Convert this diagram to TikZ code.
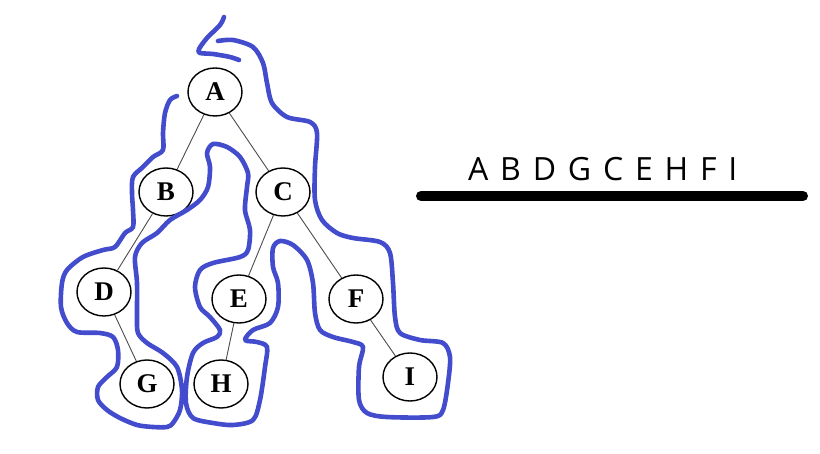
\documentclass[tikz,border=0pt]{standalone}
\usepackage{fontspec}
\setmainfont{Liberation Serif}
\newfontfamily\travfont[WordSpace=1.42]{Open Sans}
\usetikzlibrary{shapes.geometric}
\definecolor{penblue}{RGB}{66,76,204}
\begin{document}
\begin{tikzpicture}[x=1pt,y=-1pt,
	vert/.style={draw,ellipse,line width=1.4pt,minimum width=54pt,minimum height=48pt,inner sep=0pt,font=\fontsize{27}{27}\selectfont\bfseries},
	branch/.style={draw=black!70,line width=0.9pt},
	pen/.style={penblue,line width=4.6pt,line cap=round,line join=round}]
	\useasboundingbox (0,0) rectangle (820,454);

	\node[vert] (A) at (215,92) {A};
	\node[vert] (B) at (166,192) {B};
	\node[vert] (C) at (283,192) {C};
	\node[vert] (D) at (104,292) {D};
	\node[vert] (E) at (239,299) {E};
	\node[vert] (F) at (356,299) {F};
	\node[vert] (G) at (147,384) {G};
	\node[vert] (H) at (221,384) {H};
	\node[vert] (I) at (410,377) {I};

	\draw[branch] (A) -- (B);
	\draw[branch] (A) -- (C);
	\draw[branch] (B) -- (D);
	\draw[branch] (D) -- (G);
	\draw[branch] (C) -- (E);
	\draw[branch] (C) -- (F);
	\draw[branch] (E) -- (H);
	\draw[branch] (F) -- (I);

	% traversal pen stroke
	\draw[pen] plot[smooth,tension=0.5] coordinates {(224,17) (220,25) (207,38) (199,49) (200,53) (213,54) (230,57) (239,60)};
	\draw[pen] plot[smooth,tension=0.5] coordinates {(218,41) (233,40) (253,47) (263,63) (267,83) (272,103) (287,117) (310,122) (317,133) (315,167) (315,200) (322,220) (337,233) (353,238) (380,242) (390,253) (393,283) (395,317) (400,333) (420,340) (443,343) (450,357) (448,383) (443,410) (433,417) (387,417) (367,413) (359,400) (359,367) (363,347) (353,342) (333,337) (320,330) (315,313) (313,283) (307,260) (293,245) (280,241) (273,248) (273,267) (278,283) (278,307) (270,323) (253,330) (245,340) (257,342) (267,347) (265,367) (260,400) (253,420) (233,425) (213,423) (193,418) (186,403) (187,377) (193,353) (203,343) (217,337) (220,330) (210,317) (200,307) (195,287) (200,270) (213,263) (240,257) (248,250) (250,230) (245,210) (247,187) (248,173) (240,157) (227,147) (213,144) (207,153) (210,167) (208,187) (200,200) (187,210) (170,220) (157,233) (142,243) (135,257) (137,283) (137,317) (138,333) (147,343) (163,353) (177,367) (182,390) (180,410) (173,423) (167,427) (153,427) (137,425) (120,418) (107,410) (98,400) (98,387) (107,377) (117,367) (118,350) (113,337) (100,333) (77,332) (67,323) (61,307) (62,283) (67,270) (83,257) (103,250) (115,247) (125,233) (133,227) (133,210) (132,193) (133,177) (143,167) (153,157) (163,150) (163,133) (165,113) (170,100) (177,96)};

	\node[font=\travfont\fontsize{32}{32}\selectfont,anchor=base west,inner sep=0pt] (order) at (468,181) {A B D G C E H F I};
	\coordinate (ruleL) at (421,196);
	\coordinate (ruleR) at (803,196);
	\draw[line width=10pt,line cap=round] (ruleL) -- (ruleR);
\end{tikzpicture}
\end{document}
